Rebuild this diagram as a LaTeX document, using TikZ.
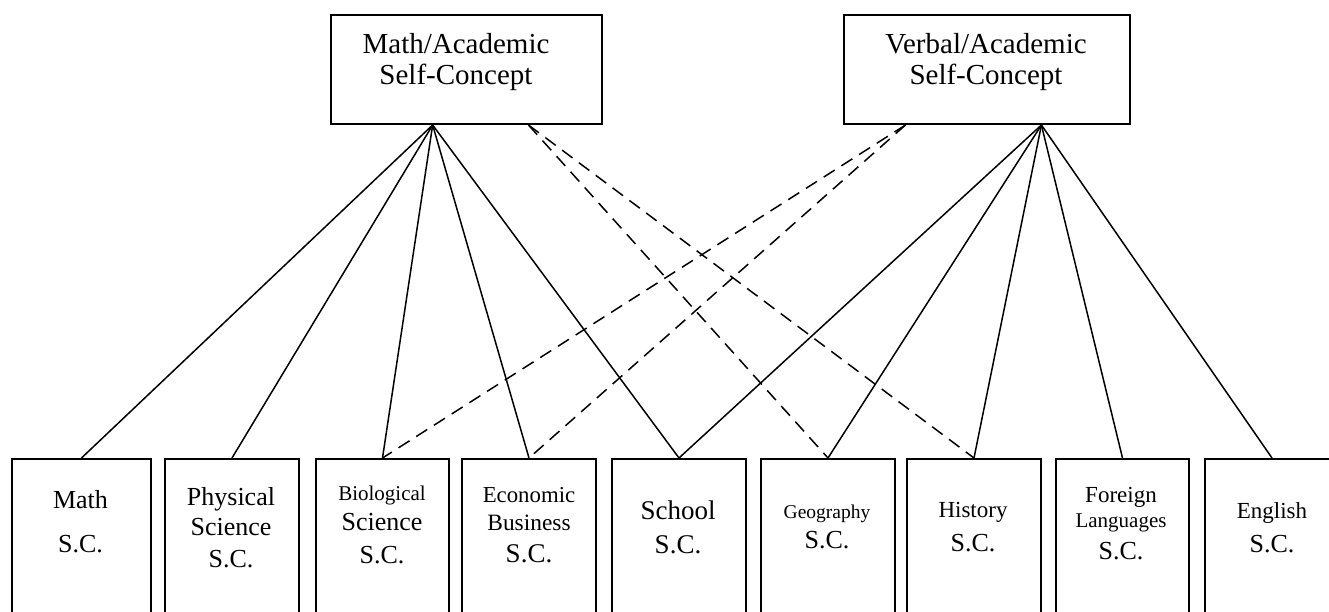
\documentclass[tikz,border=0pt]{standalone}
\usepackage{fontspec}
\setmainfont{Liberation Serif}
\usetikzlibrary{calc}

\tikzset{
  topbox/.style={draw, line width=1pt, anchor=north west, minimum height=54.5pt, inner sep=0pt},
  scbox/.style={draw, line width=1pt, anchor=north west, minimum width=67pt, minimum height=100pt, inner sep=0pt},
  boxtext/.style={anchor=north, align=center, inner sep=0pt},
  conn/.style={line width=0.75pt},
  dashconn/.style={line width=0.75pt, dash pattern=on 6.5pt off 4pt},
}

\begin{document}
\begin{tikzpicture}[x=0.5pt,y=-0.5pt]
\clip (0,0) rectangle (1329,611);

% the two general self-concepts
\node[topbox, minimum width=135.5pt] (mathac) at (330,14) {};
\node[topbox, minimum width=143pt] (verbac) at (843,14) {};
\node[boxtext, font=\fontsize{14.5}{15.5}\selectfont] (mathactx) at (456,33) {Math/Academic\\Self-Concept};
\node[boxtext, font=\fontsize{14.5}{15.5}\selectfont] (verbactx) at (986,33) {Verbal/Academic\\Self-Concept};

% subject self-concepts
\node[scbox, minimum width=69.5pt] (mathsc) at (11,458) {};
\node[scbox] (physsc) at (164,458) {};
\node[scbox, minimum width=66.5pt] (biosc) at (315,458) {};
\node[scbox] (econsc) at (461,458) {};
\node[scbox] (schoolsc) at (611,458) {};
\node[scbox] (geosc) at (760,458) {};
\node[scbox] (histsc) at (906,458) {};
\node[scbox, minimum width=66.5pt] (forsc) at (1055,458) {};
\node[scbox] (engsc) at (1204,458) {};

\node[boxtext, font=\fontsize{13}{22}\selectfont] (mathtx) at (80.5,490) {Math\\S.C.};
\node[boxtext, font=\fontsize{13}{15}\selectfont] (phystx) at (231,487) {Physical\\Science\\[1pt]S.C.};
\node[boxtext, font=\fontsize{13}{15}\selectfont] (biotx) at (382,486) {{\fontsize{10.5}{12}\selectfont Biological}\\Science\\[1.5pt]S.C.};
\node[boxtext, font=\fontsize{13.5}{14}\selectfont] (econtx) at (529,486.5) {{\fontsize{11.4}{13}\selectfont Economic}\\{\fontsize{11.7}{13}\selectfont Business}\\[2pt]S.C.};
\node[boxtext, font=\fontsize{13.5}{17}\selectfont] (schooltx) at (678,500) {School\\S.C.};
\node[boxtext, font=\fontsize{13}{15}\selectfont] (geotx) at (827,505) {{\fontsize{9.75}{11}\selectfont Geography}\\S.C.};
\node[boxtext, font=\fontsize{13}{17}\selectfont] (histtx) at (973,502) {{\fontsize{11.5}{13}\selectfont History}\\S.C.};
\node[boxtext, font=\fontsize{13}{12.5}\selectfont] (fortx) at (1121,487) {{\fontsize{11.5}{13}\selectfont Foreign}\\{\fontsize{10.5}{12}\selectfont Languages}\\[3.5pt]S.C.};
\node[boxtext, font=\fontsize{13}{17}\selectfont] (engtx) at (1272,502) {{\fontsize{11.5}{13}\selectfont English}\\S.C.};

% where the loadings leave the top boxes
\coordinate (mas) at ($(mathac.south west)!0.376!(mathac.south east)$);
\coordinate (mad) at ($(mathac.south west)!0.727!(mathac.south east)$);
\coordinate (vad) at ($(verbac.south west)!0.217!(verbac.south east)$);
\coordinate (vas) at ($(verbac.south west)!0.689!(verbac.south east)$);

\draw[conn] (mas) -- (mathsc.north);
\draw[conn] (mas) -- (physsc.north);
\draw[conn] (mas) -- (biosc.north);
\draw[conn] (mas) -- (econsc.north);
\draw[conn] (mas) -- (schoolsc.north);
\draw[dashconn] (mad) -- (geosc.north);
\draw[dashconn] (mad) -- (histsc.north);

\draw[conn] (vas) -- (schoolsc.north);
\draw[conn] (vas) -- (geosc.north);
\draw[conn] (vas) -- (histsc.north);
\draw[conn] (vas) -- (forsc.north);
\draw[conn] (vas) -- (engsc.north);
\draw[dashconn] (vad) -- (biosc.north);
\draw[dashconn] (vad) -- (econsc.north);
\end{tikzpicture}
\end{document}
